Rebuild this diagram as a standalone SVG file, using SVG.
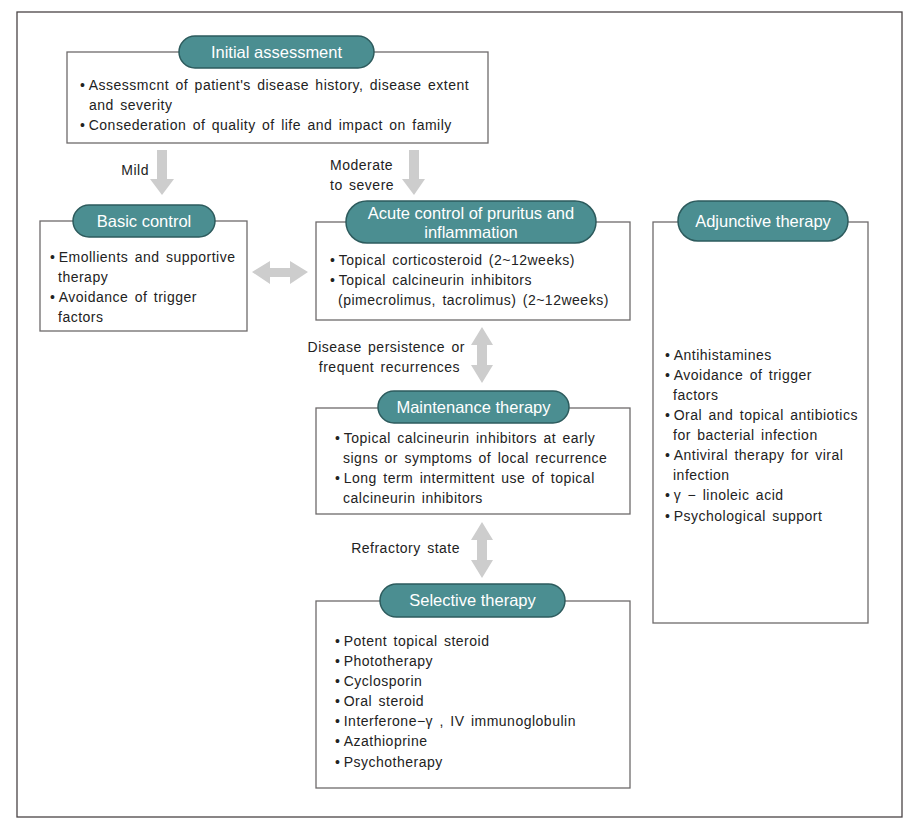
<svg xmlns="http://www.w3.org/2000/svg" width="913" height="824" viewBox="0 0 913 824">
<style>
.frame{fill:#fff;stroke:#4a4446;stroke-width:1.3}
.box{fill:#fff;stroke:#6e6a6b;stroke-width:1.3}
.pill{fill:#4b8e91;stroke:#2d5b5d;stroke-width:1.5}
.title{font-family:"Liberation Sans",Arial,sans-serif;font-size:16.5px;fill:#fff;text-anchor:middle}
.t{font-family:"Liberation Sans",Arial,sans-serif;font-size:14px;fill:#222;letter-spacing:0.5px;word-spacing:2px}
.arr{fill:#cdcdcd}
</style>
<rect x="0" y="0" width="913" height="824" fill="#fff"/>
<rect class="frame" x="17" y="12" width="885" height="805"/>

<g id="connectors">
  <path class="arr" d="M157,150 H167 V179 H174 L162,195 L150,179 H157 Z"/>
  <path class="arr" d="M409,150 H419 V179 H425 L414,195 L402,179 H409 Z"/>
  <path class="arr" d="M252,272 L270,261 V268 H290 V261 L308,272 L290,284 V277 H270 V284 Z"/>
  <path class="arr" d="M482,327 L493,345 H487 V365 H493 L482,383 L471,365 H477 V345 H471 Z"/>
  <path class="arr" d="M482,522 L493,540 H487 V560 H493 L482,578 L471,560 H477 V540 H471 Z"/>
  <text class="t" x="149" y="175" text-anchor="end">Mild</text>
  <text class="t" x="330" y="170">Moderate</text>
  <text class="t" x="330" y="190">to severe</text>
  <text class="t" x="465" y="352" text-anchor="end">Disease persistence or</text>
  <text class="t" x="460" y="372" text-anchor="end">frequent recurrences</text>
  <text class="t" x="460" y="553" text-anchor="end">Refractory state</text>
</g>

<g id="initial-assessment">
  <rect class="box" x="67" y="52" width="421" height="91"/>
  <rect class="pill" x="179" y="36" width="195" height="32" rx="16"/>
  <text class="title" x="276.5" y="58">Initial assessment</text>
  <text class="t" x="80" y="90">•&#8201;Assessmcnt of patient's disease history, disease extent</text>
  <text class="t" x="89" y="110">and severity</text>
  <text class="t" x="80" y="130">•&#8201;Consederation of quality of life and impact on family</text>
</g>

<g id="basic-control">
  <rect class="box" x="40" y="221" width="207" height="110"/>
  <rect class="pill" x="73" y="205" width="142" height="32" rx="16"/>
  <text class="title" x="144" y="227">Basic control</text>
  <text class="t" x="50" y="262">•&#8201;Emollients and supportive</text>
  <text class="t" x="58" y="282">therapy</text>
  <text class="t" x="50" y="302">•&#8201;Avoidance of trigger</text>
  <text class="t" x="58" y="322">factors</text>
</g>

<g id="acute-control">
  <rect class="box" x="316" y="222" width="314" height="98"/>
  <rect class="pill" x="346" y="201" width="250" height="42" rx="21"/>
  <text class="title" x="471" y="219">Acute control of pruritus and</text>
  <text class="title" x="471" y="238">inflammation</text>
  <text class="t" x="330" y="265">•&#8201;Topical corticosteroid (2~12weeks)</text>
  <text class="t" x="330" y="285">•&#8201;Topical calcineurin inhibitors</text>
  <text class="t" x="338" y="305">(pimecrolimus, tacrolimus) (2~12weeks)</text>
</g>

<g id="maintenance-therapy">
  <rect class="box" x="316" y="408" width="314" height="106"/>
  <rect class="pill" x="378" y="391" width="191" height="32" rx="16"/>
  <text class="title" x="473.5" y="413">Maintenance therapy</text>
  <text class="t" x="335" y="443">•&#8201;Topical calcineurin inhibitors at early</text>
  <text class="t" x="343" y="463">signs or symptoms of local recurrence</text>
  <text class="t" x="335" y="483">•&#8201;Long term intermittent use of topical</text>
  <text class="t" x="343" y="503">calcineurin inhibitors</text>
</g>

<g id="selective-therapy">
  <rect class="box" x="316" y="601" width="314" height="187"/>
  <rect class="pill" x="380" y="584" width="185" height="33" rx="16.5"/>
  <text class="title" x="472.5" y="606">Selective therapy</text>
  <text class="t" x="335" y="646">•&#8201;Potent topical steroid</text>
  <text class="t" x="335" y="666">•&#8201;Phototherapy</text>
  <text class="t" x="335" y="686">•&#8201;Cyclosporin</text>
  <text class="t" x="335" y="706">•&#8201;Oral steroid</text>
  <text class="t" x="335" y="726">•&#8201;Interferone−γ , IV immunoglobulin</text>
  <text class="t" x="335" y="746">•&#8201;Azathioprine</text>
  <text class="t" x="335" y="767">•&#8201;Psychotherapy</text>
</g>

<g id="adjunctive-therapy">
  <rect class="box" x="653" y="222" width="215" height="401"/>
  <rect class="pill" x="678" y="201" width="170" height="40" rx="20"/>
  <text class="title" x="763" y="227">Adjunctive therapy</text>
  <text class="t" x="665" y="360">•&#8201;Antihistamines</text>
  <text class="t" x="665" y="380">•&#8201;Avoidance of trigger</text>
  <text class="t" x="673" y="400">factors</text>
  <text class="t" x="665" y="420">•&#8201;Oral and topical antibiotics</text>
  <text class="t" x="673" y="440">for bacterial infection</text>
  <text class="t" x="665" y="460">•&#8201;Antiviral therapy for viral</text>
  <text class="t" x="673" y="480">infection</text>
  <text class="t" x="665" y="500">•&#8201;γ − linoleic acid</text>
  <text class="t" x="665" y="521">•&#8201;Psychological support</text>
</g>
</svg>
